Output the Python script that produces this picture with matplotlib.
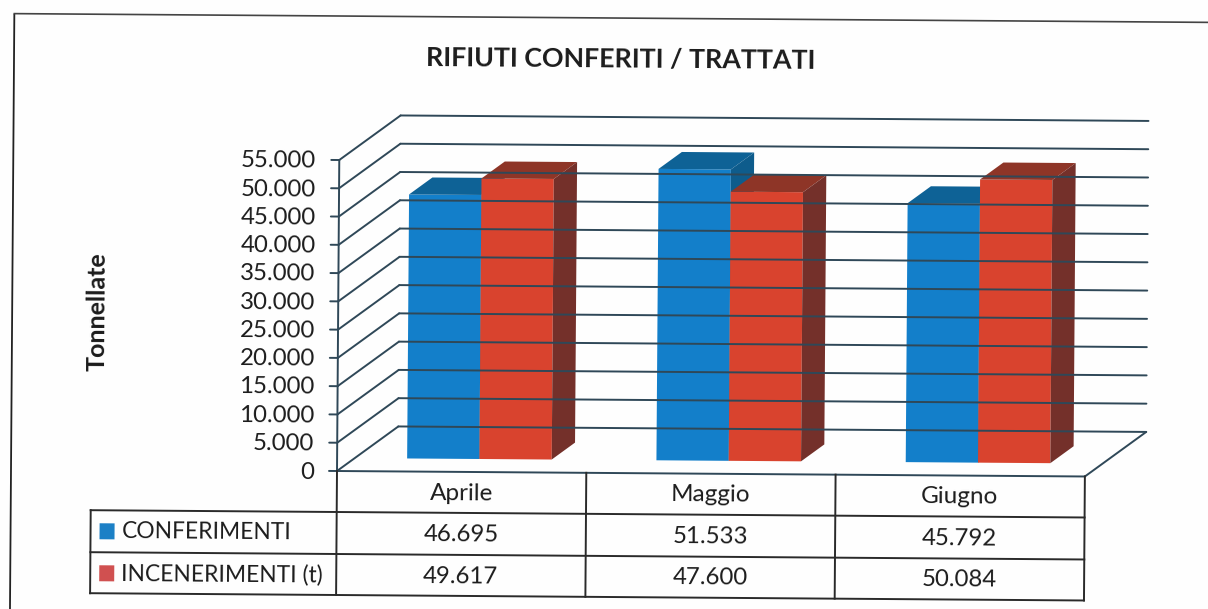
import matplotlib
matplotlib.use('Agg')
import matplotlib.pyplot as plt
from matplotlib.transforms import Affine2D

plt.rcParams['font.family'] = ['Lato', 'DejaVu Sans']

mesi = ['Aprile', 'Maggio', 'Giugno']
conferimenti = [46695, 51533, 45792]
incenerimenti = [49617, 47600, 50084]
serie = ['CONFERIMENTI', 'INCENERIMENTI (t)']
tick_valori = list(range(0, 55001, 5000))


def it(v):
    return f'{v:,}'.replace(',', '.')


W, H = 1208, 609
X0, Y0 = 337, 471        # origine del grafico in pixel
UX = 249.3               # pixel per categoria
VY = 311 / 55000         # pixel per tonnellata
TILT = -0.42             # la scansione e' storta

fig = plt.figure(figsize=(W / 100, H / 100), dpi=100, facecolor='#fefefe')
ax = fig.add_axes([0, 0, 1, 1])
ax.set_xlim(-X0 / UX, (W - X0) / UX)
ax.set_ylim(-(H - Y0) / VY, Y0 / VY)
ax.axis('off')

rot = Affine2D().rotate_deg_around(X0, H - Y0, TILT)
dati = ax.transData + rot
pagina = Affine2D().scale(1, -1).translate(0, H) + rot  # pixel come nell'immagine

DU = 61 / UX             # profondita' in unita' dati
DV = 45 / VY


def p(u, v, d):
    return u + d * DU, v + d * DV


def linea(a, b, c='#2f4858', lw=1.4):
    ax.plot([a[0], b[0]], [a[1], b[1]], color=c, lw=lw, transform=dati, solid_capstyle='round')


def faccia(punti, colore):
    xs = [q[0] for q in punti]
    ys = [q[1] for q in punti]
    ax.fill(xs, ys, color=colore, lw=0, transform=dati)


def scritta(x, y, s, **kw):
    ax.text(x, y, s, transform=pagina, rotation=TILT, rotation_mode='anchor', color='#1c1c1c', **kw)


def riga(x1, y1, x2, y2, lw=1.4):
    ax.plot([x1, x2], [y1, y2], color='#2a2a2a', lw=lw, transform=pagina)


# griglia su parete e pavimento
for v in tick_valori:
    linea(p(0, v, 0), p(0, v, 1))
    linea(p(0, v, 1), p(3, v, 1))
    linea((-8 / UX, v), (0, v))
    scritta(314, Y0 - v * VY + 1.5, it(v), ha='right', va='center', fontsize=17.3)
linea(p(0, 0, 0), p(0, 55000, 0))
linea(p(0, 0, 0), p(3, 0, 0))
linea(p(3, 0, 0), p(3, 0, 1))

# barre 3D
larg = 0.29
d1, d2 = 0.29, 0.67
stili = [('#137fca', '#0e6296', '#0e5c8c'), ('#d9432e', '#8e3527', '#74302a')]
for i in range(len(mesi)):
    for k, valori in enumerate([conferimenti, incenerimenti]):
        u1 = i + 0.5 - larg + k * larg
        u2 = u1 + larg
        v = valori[i]
        front, top, side = stili[k]
        faccia([p(u1, 0, d1), p(u2, 0, d1), p(u2, v, d1), p(u1, v, d1)], front)
        faccia([p(u1, v, d1), p(u2, v, d1), p(u2, v, d2), p(u1, v, d2)], top)
        faccia([p(u2, 0, d1), p(u2, 0, d2), p(u2, v, d2), p(u2, v, d1)], side)

# tabella dati
xt = [X0 + i * UX for i in range(4)]
y_top, y_r1, y_r2, y_r3 = Y0, 512, 554, 595
x_sx = 91
riga(x_sx, y_r1, xt[3], y_r1)
riga(x_sx, y_r2, xt[3], y_r2)
riga(x_sx, y_r3, xt[3], y_r3)
riga(x_sx, y_r1, x_sx, y_r3)
for x in xt:
    riga(x, y_top, x, y_r3)

for i, m in enumerate(mesi):
    xc = xt[i] + UX / 2
    scritta(xc, (y_top + y_r1) / 2 + 1, m, ha='center', va='center', fontsize=17.5)
    scritta(xc, (y_r1 + y_r2) / 2 + 1, it(conferimenti[i]), ha='center', va='center', fontsize=17.3)
    scritta(xc, (y_r2 + y_r3) / 2 + 1, it(incenerimenti[i]), ha='center', va='center', fontsize=17.3)

colori_leg = ['#1c80c6', '#d05050']
for k, nome in enumerate(serie):
    yc = [y_r1 + 21, y_r2 + 21][k]
    ax.fill([100, 115, 115, 100], [yc - 8, yc - 8, yc + 8, yc + 8], color=colori_leg[k], lw=0, transform=pagina)
    scritta(122, yc, nome, ha='left', va='center', fontsize=16.4)

# titoli
scritta(618, 57, 'RIFIUTI CONFERITI / TRATTATI', ha='center', va='center', fontsize=19.3, fontweight='bold')
ax.text(96, 313, 'Tonnellate', transform=pagina, rotation=90 + TILT, rotation_mode='anchor',
        ha='center', va='center', fontsize=18, fontweight='bold', color='#1c1c1c')

# bordo del riquadro
ax.plot([11, 11], [17, H + 20], color='#222222', lw=1.3, transform=pagina, clip_on=False)
ax.plot([11, W + 20], [16, 16], color='#444444', lw=1.2, transform=pagina, clip_on=False)

fig.savefig('out.png', dpi=100, facecolor=fig.get_facecolor())
